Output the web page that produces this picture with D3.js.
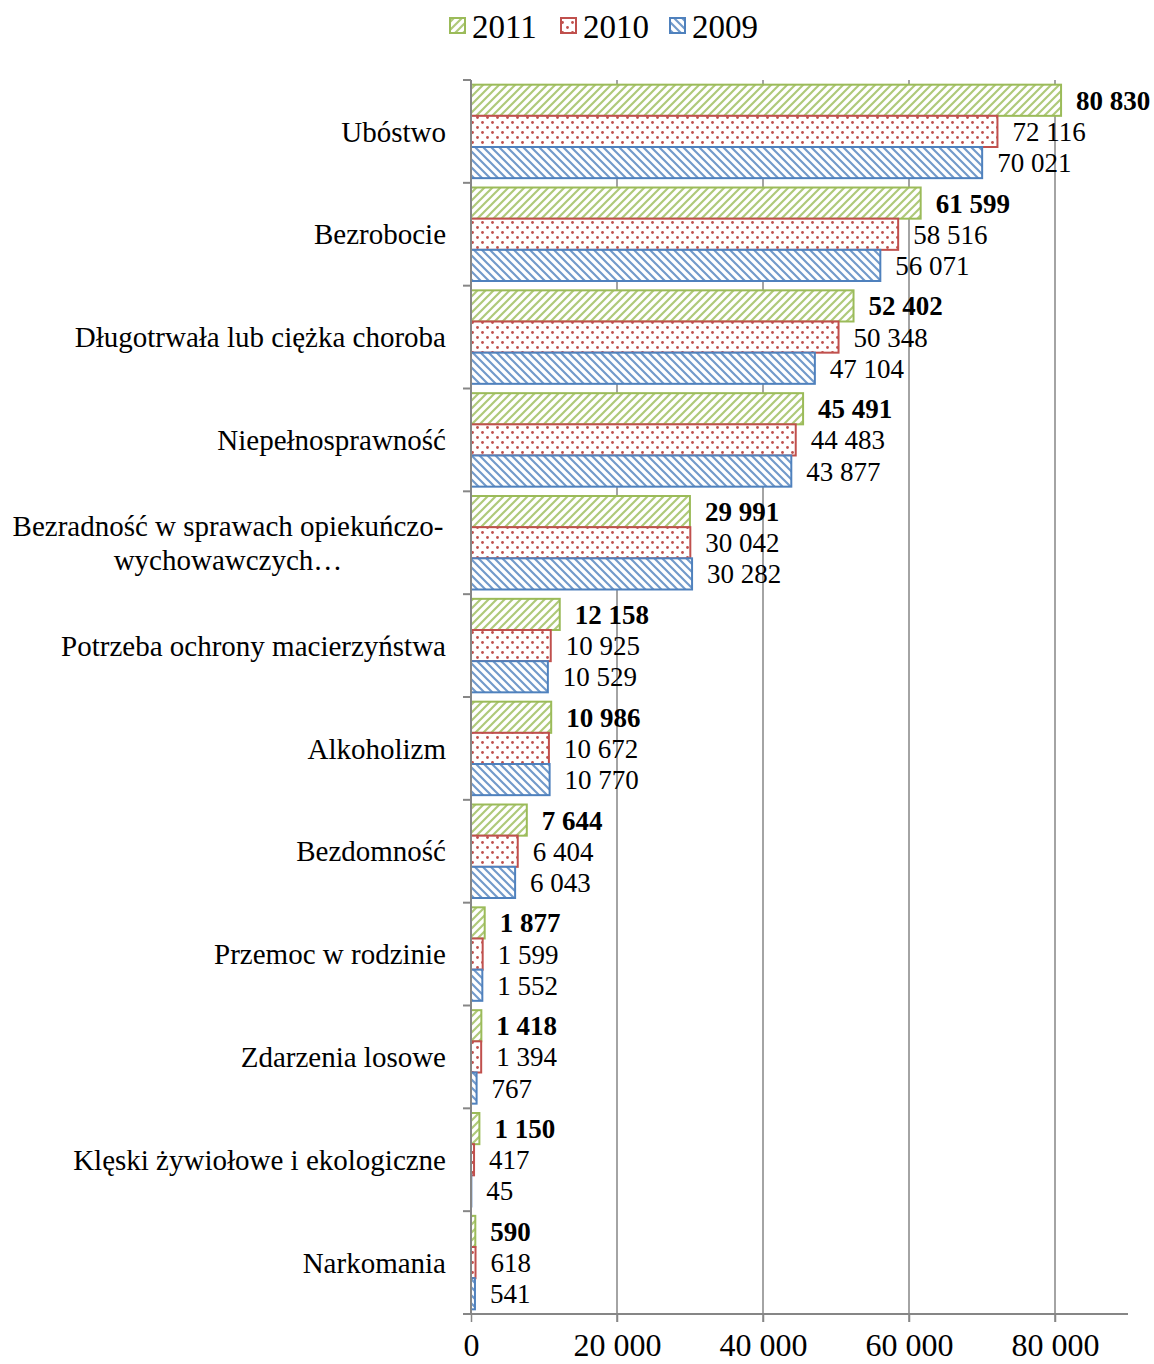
<!DOCTYPE html>
<meta charset="utf-8">
<style>
body{margin:0;background:#fff;}
text{font-family:"Liberation Serif","Times New Roman",serif;fill:#000;}
.cat{font-size:29px;}
.val{font-size:27px;}
.tick text{font-size:32px;}
.legend text{font-size:33px;}
</style>
<body>
<script src="https://d3js.org/d3.v7.min.js"></script>
<script>

var categories=["Ubóstwo","Bezrobocie","Długotrwała lub ciężka choroba","Niepełnosprawność",
	"Bezradność w sprawach opiekuńczo-|wychowawczych…","Potrzeba ochrony macierzyństwa",
	"Alkoholizm","Bezdomność","Przemoc w rodzinie","Zdarzenia losowe",
	"Klęski żywiołowe i ekologiczne","Narkomania"];
var years=["2011","2010","2009"];
var v2011=[80830,61599,52402,45491,29991,12158,10986,7644,1877,1418,1150,590];
var v2010=[72116,58516,50348,44483,30042,10925,10672,6404,1599,1394,417,618];
var v2009=[70021,56071,47104,43877,30282,10529,10770,6043,1552,767,45,541];
var xTicks=[0,20000,40000,60000,80000];

var series=[v2011,v2010,v2009];
var color={"2011":"#9BBB59","2010":"#C0504D","2009":"#4F81BD"};
var fmt=function(n){ return d3.format(",")(n).replace(/,/g," "); };

var W=1154,H=1364;
var m={left:471,top:80,right:26,bottom:50};
var svg=d3.select("body").append("svg").attr("width",W).attr("height",H);

var defs=svg.append("defs");
// hatches
function hatch(id,col,dir){
	var p=defs.append("pattern").attr("id",id).attr("patternUnits","userSpaceOnUse")
		.attr("width",8).attr("height",8);
	p.append("rect").attr("width",8).attr("height",8).attr("fill","#fff");
	var d= dir>0 ? "M-2,2 L2,-2 M0,8 L8,0 M6,10 L10,6" : "M-2,6 L2,10 M0,0 L8,8 M6,-2 L10,2";
	p.append("path").attr("d",d).attr("stroke",col).attr("stroke-width",2.2).attr("stroke-opacity",0.8);
}
hatch("p2011",color["2011"],1);
hatch("p2009",color["2009"],-1);
var pd=defs.append("pattern").attr("id","p2010").attr("patternUnits","userSpaceOnUse")
	.attr("width",10).attr("height",10);
pd.append("rect").attr("width",10).attr("height",10).attr("fill","#fff");
pd.append("circle").attr("cx",2.5).attr("cy",2.5).attr("r",1.4).attr("fill",color["2010"]);
pd.append("circle").attr("cx",7.5).attr("cy",7.5).attr("r",1.4).attr("fill",color["2010"]);

var x=d3.scaleLinear().domain([0,90000]).range([m.left,W-m.right]);
var y=d3.scaleBand().domain(d3.range(categories.length)).range([m.top,H-m.bottom]);
var inner=d3.scaleBand().domain(years).range([0,y.bandwidth()]).paddingOuter(0.15);

// gridlines
svg.append("g").selectAll("line").data(xTicks.slice(1)).join("line")
	.attr("x1",d=>x(d)).attr("x2",d=>x(d))
	.attr("y1",m.top).attr("y2",H-m.bottom+8)
	.attr("stroke","#868686").attr("stroke-width",1.5);

// bars
var g=svg.append("g");
years.forEach(function(yr,si){
	g.selectAll(".b"+yr).data(series[si]).join("rect")
		.attr("x",x(0)).attr("y",(d,i)=>y(i)+inner(yr))
		.attr("width",d=>x(d)-x(0)).attr("height",inner.bandwidth())
		.attr("fill","url(#p"+yr+")").attr("stroke",color[yr]).attr("stroke-width",2);
	g.selectAll(".v"+yr).data(series[si]).join("text").attr("class","val")
		.attr("x",d=>x(d)+15).attr("y",(d,i)=>y(i)+inner(yr)+inner.bandwidth()/2)
		.attr("dy","0.35em")
		.style("font-weight",si==0?"bold":"normal")
		.text(d=>fmt(d));
});

// y axis
svg.append("line").attr("x1",m.left).attr("x2",m.left).attr("y1",m.top).attr("y2",H-m.bottom)
	.attr("stroke","#868686").attr("stroke-width",2);
svg.append("g").selectAll("line").data(d3.range(categories.length+1)).join("line")
	.attr("x1",m.left-8).attr("x2",m.left)
	.attr("y1",d=>m.top+d*y.step()).attr("y2",d=>m.top+d*y.step())
	.attr("stroke","#868686").attr("stroke-width",2);

categories.forEach(function(c,i){
	var lines=c.split("|");
	var cy=y(i)+y.bandwidth()/2;
	if(lines.length==1){
		svg.append("text").attr("class","cat").attr("x",446).attr("y",cy)
			.attr("dy","0.35em").attr("text-anchor","end").text(c);
	}else{
		lines.forEach(function(l,j){
			svg.append("text").attr("class","cat").attr("x",228).attr("y",cy+(j-0.5)*34)
				.attr("dy","0.35em").attr("text-anchor","middle").text(l);
		});
	}
});

// x axis
var xa=svg.append("g").attr("transform","translate(0,"+(H-m.bottom)+")")
	.call(d3.axisBottom(x).tickValues(xTicks).tickSize(8).tickPadding(11).tickFormat(fmt));
xa.select(".domain").attr("stroke","#868686").attr("stroke-width",2)
	.attr("d","M"+(m.left-8)+",0H"+(W-m.right));
xa.selectAll(".tick line").attr("stroke","#868686").attr("stroke-width",1.5);
xa.selectAll(".tick text").attr("font-family",null).attr("font-size",null);

// legend
var lg=svg.append("g").attr("class","legend");
var lx=[450,561,670];
years.forEach(function(yr,i){
	lg.append("rect").attr("x",lx[i]).attr("y",18).attr("width",15).attr("height",15)
		.attr("fill","url(#p"+yr+")").attr("stroke",color[yr]).attr("stroke-width",2);
	lg.append("text").attr("x",lx[i]+22).attr("y",26).attr("dy","0.35em").text(yr);
});
</script>
</body>
</html>
